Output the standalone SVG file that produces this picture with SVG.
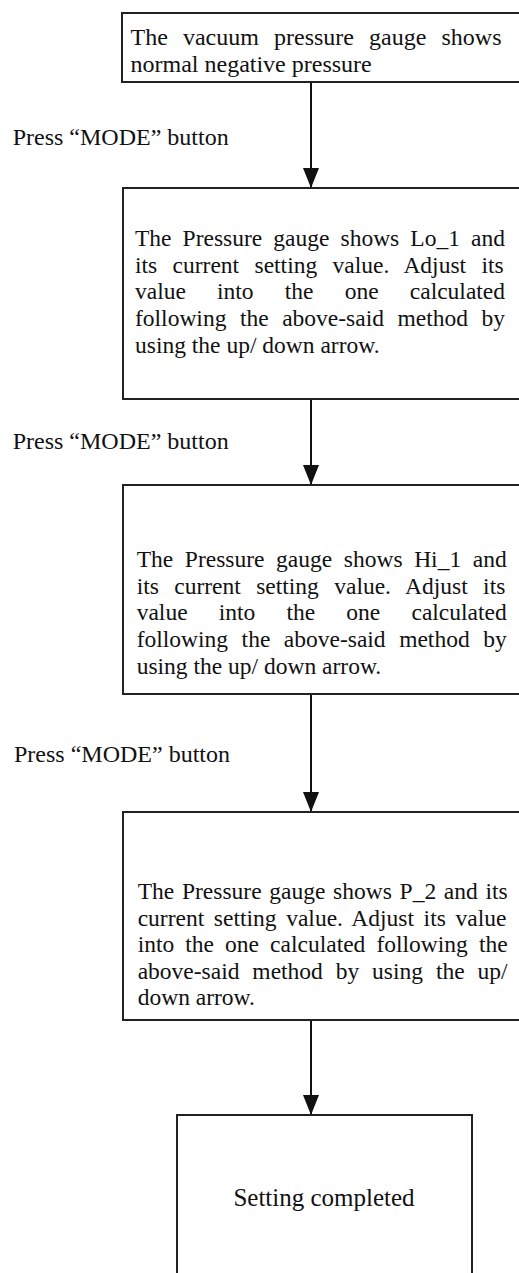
<svg xmlns="http://www.w3.org/2000/svg" width="519" height="1273" viewBox="0 0 519 1273">
  <defs>
    <style>
      .box { fill: #ffffff; stroke: #222222; stroke-width: 2; }
      .txt { font-family: "Liberation Serif", "Times New Roman", serif; font-size: 23.5px; fill: #111111; }
      .lbl { font-family: "Liberation Serif", "Times New Roman", serif; font-size: 24px; fill: #111111; }
      .link { stroke: #111111; stroke-width: 2; fill: none; marker-end: url(#head); }
    </style>
    <!-- solid triangular arrowhead, tip at the end of the line -->
    <marker id="head" viewBox="0 0 20 16" refX="19" refY="8" markerWidth="20" markerHeight="16" markerUnits="userSpaceOnUse" orient="auto">
      <path d="M0,0 L20,8 L0,16 Z" fill="#111111"/>
    </marker>
  </defs>
  <rect width="519" height="1273" fill="#ffffff"/>

  <!-- connectors between the steps -->
  <g id="connectors">
    <line class="link" x1="311" y1="83" x2="311" y2="187"/>
    <line class="link" x1="311" y1="400" x2="311" y2="484"/>
    <line class="link" x1="311" y1="695" x2="311" y2="811"/>
    <line class="link" x1="311" y1="1021" x2="311" y2="1114"/>
    <text class="lbl" x="12.7" y="145">Press “MODE” button</text>
    <text class="lbl" x="12.7" y="449">Press “MODE” button</text>
    <text class="lbl" x="14" y="762">Press “MODE” button</text>
  </g>

  <!-- step 1 -->
  <g id="step-vacuum">
    <rect class="box" x="122" y="13" width="410" height="69"/>
    <text class="txt" style="font-size:24px" x="130.5" y="45" word-spacing="9.1">The vacuum pressure gauge shows</text>
    <text class="txt" style="font-size:24px" x="130.5" y="72">normal negative pressure</text>
  </g>

  <!-- step 2 -->
  <g id="step-lo1">
    <rect class="box" x="123" y="188" width="410" height="211"/>
    <text class="txt" x="135" y="246" word-spacing="5.2">The Pressure gauge shows Lo_1 and</text>
    <text class="txt" x="135" y="272.7" word-spacing="9.5">its current setting value. Adjust its</text>
    <text class="txt" x="135" y="299.3" word-spacing="25.3">value into the one calculated</text>
    <text class="txt" x="135" y="326.3" word-spacing="7.65">following the above-said method by</text>
    <text class="txt" x="135" y="352.7">using the up/ down arrow.</text>
  </g>

  <!-- step 3 -->
  <g id="step-hi1">
    <rect class="box" x="123" y="485" width="410" height="209"/>
    <text class="txt" x="136.7" y="566.7" word-spacing="5.73">The Pressure gauge shows Hi_1 and</text>
    <text class="txt" x="136.7" y="594" word-spacing="9.5">its current setting value. Adjust its</text>
    <text class="txt" x="136.7" y="620.3" word-spacing="25.3">value into the one calculated</text>
    <text class="txt" x="136.7" y="647" word-spacing="7.65">following the above-said method by</text>
    <text class="txt" x="136.7" y="674">using the up/ down arrow.</text>
  </g>

  <!-- step 4 -->
  <g id="step-p2">
    <rect class="box" x="123" y="812" width="410" height="208"/>
    <text class="txt" x="137.7" y="899.3" word-spacing="1.84">The Pressure gauge shows P_2 and its</text>
    <text class="txt" x="137.7" y="925.7" word-spacing="3.77">current setting value. Adjust its value</text>
    <text class="txt" x="137.7" y="952.3" word-spacing="5.2">into the one calculated following the</text>
    <text class="txt" x="137.7" y="978.7" word-spacing="7.0">above-said method by using the up/</text>
    <text class="txt" x="137.7" y="1005.3">down arrow.</text>
  </g>

  <!-- final step -->
  <g id="step-done">
    <rect class="box" x="177" y="1115" width="295" height="180"/>
    <text class="txt" style="font-size:25px" x="324" y="1206" text-anchor="middle">Setting completed</text>
  </g>
</svg>
